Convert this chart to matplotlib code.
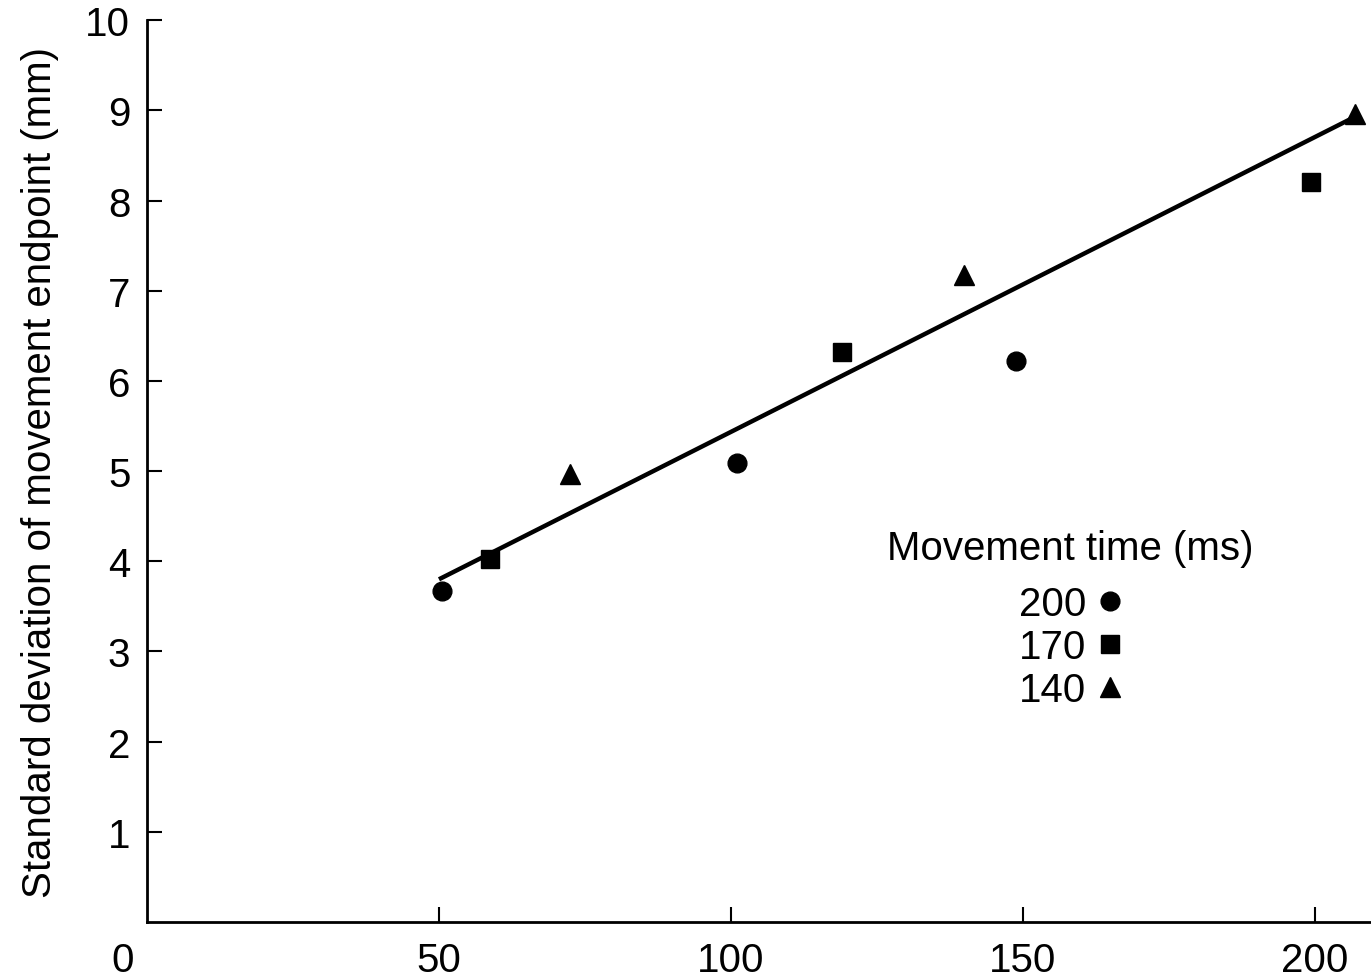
import matplotlib.pyplot as plt

# movement time 200 ms (circles), 170 ms (squares), 140 ms (triangles)
x_200 = [50.5, 101, 148.8]
y_200 = [3.67, 5.09, 6.22]
x_170 = [58.7, 119, 199.3]
y_170 = [4.02, 6.32, 8.21]
x_140 = [72.4, 139.9, 206.8]
y_140 = [4.97, 7.17, 8.96]

# fitted line endpoints
fit_x = [50, 206]
fit_y = [3.8, 8.9]

x_ticks = [50, 100, 150, 200]
y_ticks = [1, 2, 3, 4, 5, 6, 7, 8, 9, 10]

plt.rcParams["font.family"] = ["Liberation Sans", "DejaVu Sans"]

fig = plt.figure(figsize=(13.71, 9.78), dpi=100)
ax = fig.add_axes([0.1072, 0.0562, 0.8928, 0.9222])

ax.plot(fit_x, fit_y, color="black", lw=3.2, solid_capstyle="butt", zorder=2)
ax.plot(x_200, y_200, "o", color="black", ms=13.5, label="200", zorder=3)
ax.plot(x_170, y_170, "s", color="black", ms=12.5, label="170", zorder=3)
ax.plot(x_140, y_140, "^", color="black", ms=14, label="140", zorder=3)

ax.set_xlim(0, 209.6)
ax.set_ylim(0, 10)
ax.set_xticks(x_ticks)
ax.set_yticks(y_ticks)
ax.tick_params(axis="both", direction="in", length=11, width=1.5, labelsize=29)
ax.tick_params(axis="x", pad=14)
ax.tick_params(axis="y", pad=12)

for side in ["top", "right"]:
    ax.spines[side].set_visible(False)
for side in ["left", "bottom"]:
    ax.spines[side].set_linewidth(2)

# lone origin label, set left of the axis corner as in the print
ax.text(-4.2, -0.42, "0", fontsize=29, ha="center", va="center",
        transform=ax.transData, clip_on=False)

ax.set_ylabel("Standard deviation of movement endpoint (mm)", fontsize=29, labelpad=19)

leg = ax.legend(title="Movement time (ms)", loc="center", bbox_to_anchor=(0.754, 0.336),
                frameon=False, markerfirst=False, fontsize=29, title_fontsize=29,
                handlelength=0.55, handletextpad=0.3, labelspacing=0.125, borderpad=0)
leg._legend_box.align = "center"
leg._legend_box.sep = 13

fig.savefig("out.png", dpi=100)
